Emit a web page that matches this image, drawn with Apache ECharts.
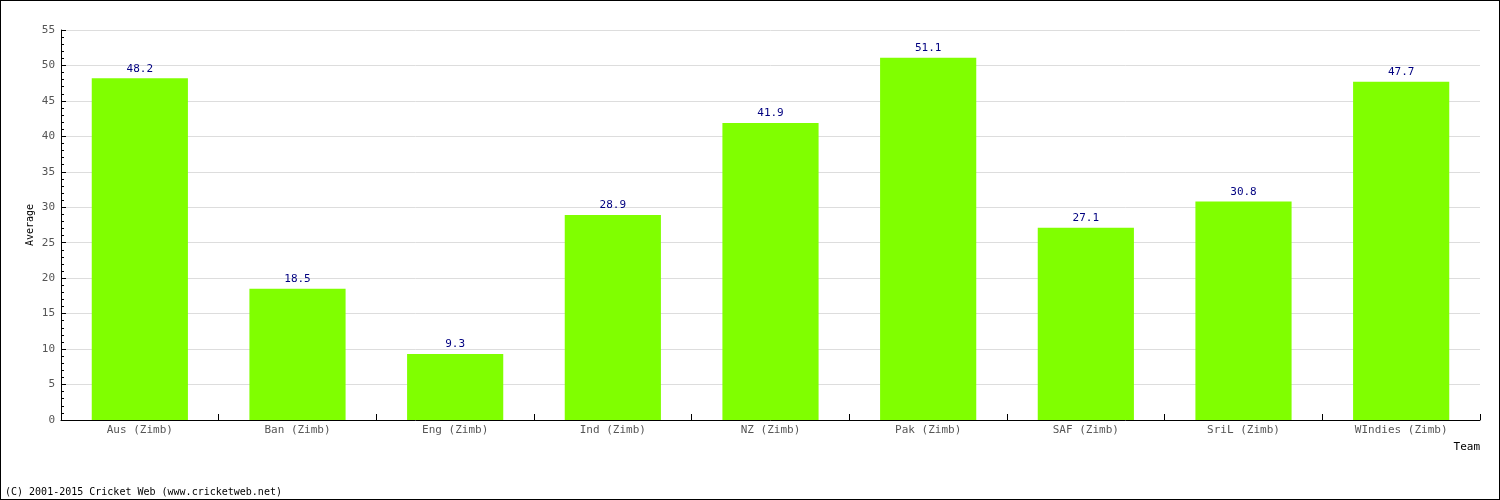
<!DOCTYPE html>
<html>
<head>
<meta charset="utf-8">
<script src="https://cdn.jsdelivr.net/npm/echarts@6/dist/echarts.min.js"></script>
<style>
html,body{margin:0;padding:0;background:#fff;}
#c{width:1500px;height:500px;box-sizing:border-box;border:1px solid #000;}
</style>
</head>
<body>
<div id="c"></div>
<script>
const categories = ["Aus (Zimb)","Ban (Zimb)","Eng (Zimb)","Ind (Zimb)","NZ (Zimb)","Pak (Zimb)","SAF (Zimb)","SriL (Zimb)","WIndies (Zimb)"];
const averages = [48.2, 18.5, 9.3, 28.9, 41.9, 51.1, 27.1, 30.8, 47.7];
const yTicks = [0,5,10,15,20,25,30,35,40,45,50,55];
const FONT = "DejaVu Sans Mono";
const chart = echarts.init(document.getElementById('c'), null, {renderer:'canvas'});
chart.setOption({
  animation:false,
  backgroundColor:'#fff',
  grid:{left:60, right:19, top:29, bottom:79, containLabel:false},
  xAxis:{
    type:'category', data:categories, name:'Team', nameLocation:'end',
    nameGap:0, nameMoveOverlap:false,
    nameTextStyle:{fontFamily:FONT, fontSize:11, color:'#000', align:'right', verticalAlign:'top', padding:[22,0,0,0]},
    axisLine:{lineStyle:{color:'#000', width:1}},
    axisTick:{show:true, inside:true, length:6, lineStyle:{color:'#000'}},
    axisLabel:{fontFamily:FONT, fontSize:11, color:'#555', margin:5},
    splitLine:{show:false}
  },
  yAxis:{
    type:'value', min:0, max:55, interval:5, name:'Average', nameLocation:'middle', nameGap:26,
    nameMoveOverlap:false,
    nameTextStyle:{fontFamily:FONT, fontSize:10, color:'#000'},
    axisLine:{show:true, lineStyle:{color:'#000'}},
    axisTick:{show:true, inside:true, length:5, lineStyle:{color:'#000'}},
    minorTick:{show:true, splitNumber:5, length:3, lineStyle:{color:'#000'}},
    axisLabel:{fontFamily:FONT, fontSize:11, color:'#555', margin:6,
      formatter:function(v){return yTicks.indexOf(v)>=0?String(v):'';}},
    splitLine:{show:true, lineStyle:{color:'#ddd', width:1}}
  },
  series:[{
    type:'bar', data:averages, barWidth:'61%',
    itemStyle:{color:'#80ff00'},
    label:{show:true, position:'top', distance:4, fontFamily:FONT, fontSize:11, color:'#000080',
      formatter:function(p){return p.value.toFixed(1);}}
  }],
  graphic:[{
    type:'text', left:4, top:486,
    style:{text:'(C) 2001-2015 Cricket Web (www.cricketweb.net)', fontFamily:FONT, fontSize:10, fill:'#000'}
  }]
});
</script>
</body>
</html>
